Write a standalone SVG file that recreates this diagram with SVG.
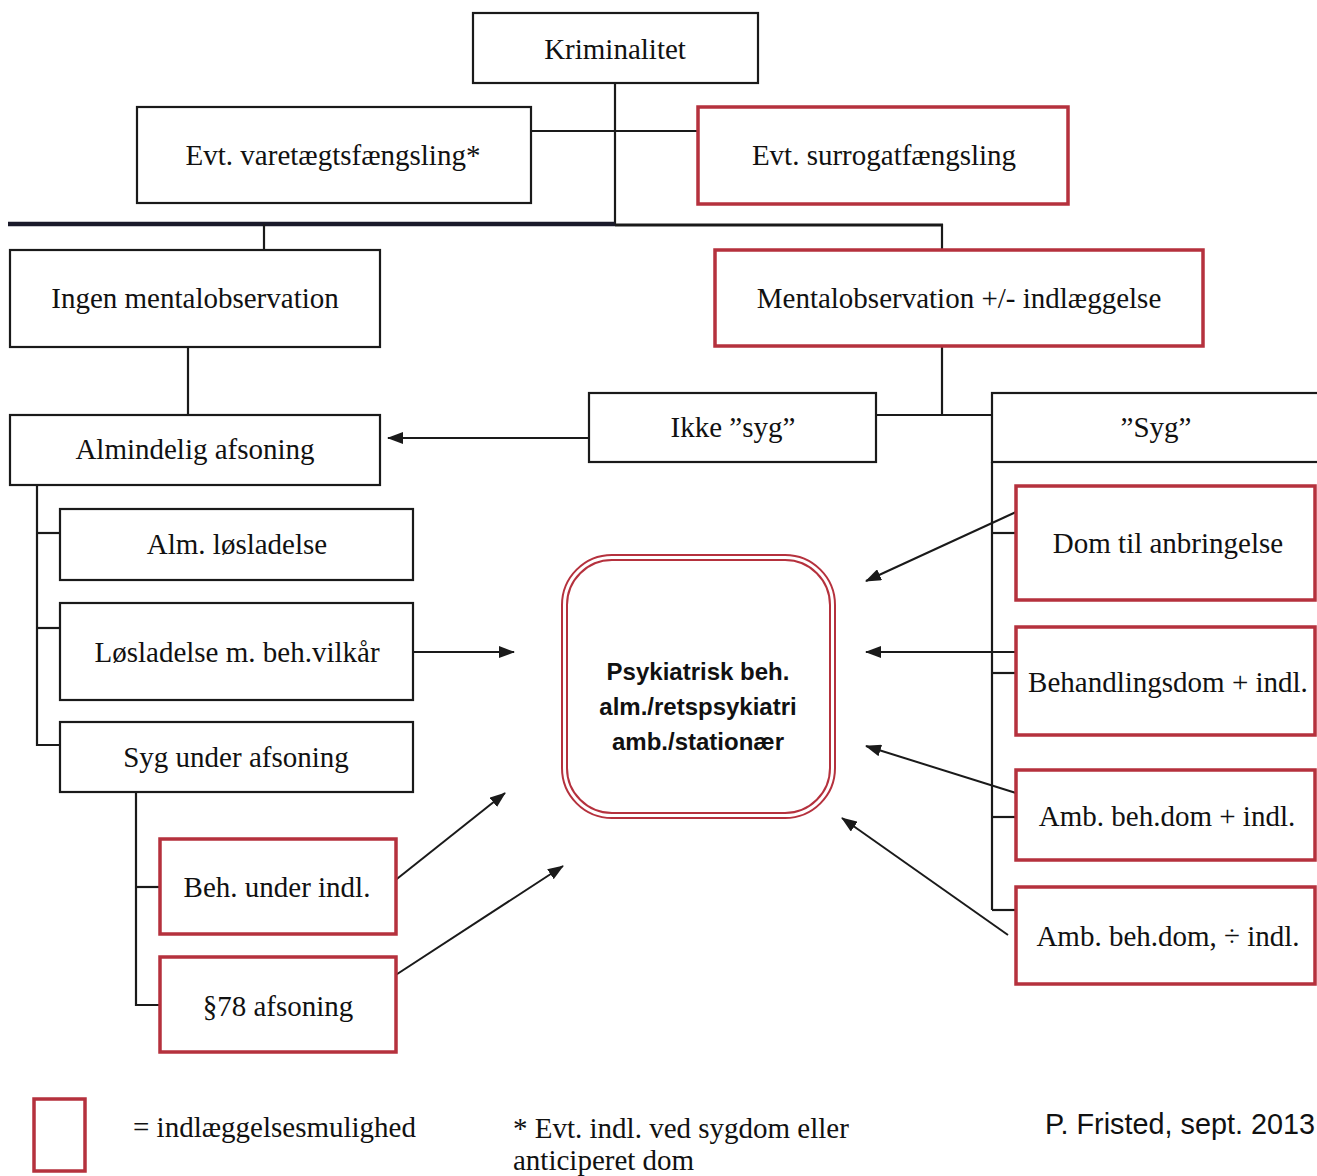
<svg xmlns="http://www.w3.org/2000/svg" width="1317" height="1176" viewBox="0 0 1317 1176">
<defs>
<style>
.bk{fill:#fff;stroke:#1a1a1a;stroke-width:2.2}
.rd{fill:#fff;stroke:#b5313d;stroke-width:3.5}
.t{font-family:"Liberation Serif","Times New Roman",serif;font-size:29px;fill:#111;text-anchor:middle}
.ln{stroke:#1a1a1a;stroke-width:2.2;fill:none}
.ar{stroke:#1a1a1a;stroke-width:2;fill:none;marker-end:url(#ah)}
.ft{font-family:"Liberation Serif","Times New Roman",serif;font-size:29px;fill:#111}
</style>
<marker id="ah" markerWidth="16" markerHeight="12" refX="15" refY="6" orient="auto" markerUnits="userSpaceOnUse">
<path d="M0,0 L16,6 L0,12 z" fill="#1a1a1a"/>
</marker>
</defs>
<rect width="1317" height="1176" fill="#fff"/>

<g id="connectors">
<line class="ln" x1="615" y1="83" x2="615" y2="224"/>
<line class="ln" x1="531" y1="131" x2="698" y2="131"/>
<line x1="8" y1="224" x2="615" y2="224" stroke="#1a1a2a" stroke-width="4.5"/>
<line x1="615" y1="225" x2="943" y2="225" stroke="#1a1a1a" stroke-width="3"/>
<line class="ln" x1="264" y1="224" x2="264" y2="250"/>
<line class="ln" x1="942" y1="224" x2="942" y2="250"/>
<line class="ln" x1="188" y1="347" x2="188" y2="415"/>
<line class="ln" x1="942" y1="346" x2="942" y2="415"/>
<line class="ln" x1="868" y1="415" x2="993" y2="415"/>
<line class="ln" x1="992" y1="462" x2="992" y2="910"/>
<line class="ln" x1="992" y1="533" x2="1016" y2="533"/>
<line class="ln" x1="992" y1="673" x2="1016" y2="673"/>
<line class="ln" x1="992" y1="817" x2="1016" y2="817"/>
<line class="ln" x1="992" y1="910" x2="1016" y2="910"/>
<polyline class="ln" points="37,485 37,745 60,745"/>
<line class="ln" x1="37" y1="533" x2="60" y2="533"/>
<line class="ln" x1="37" y1="628" x2="60" y2="628"/>
<polyline class="ln" points="136,792 136,1005 160,1005"/>
<line class="ln" x1="136" y1="887" x2="160" y2="887"/>
<line class="ar" x1="589" y1="438" x2="388" y2="438"/>
<line class="ar" x1="413" y1="652" x2="514" y2="652"/>
<line class="ar" x1="388" y1="886" x2="505" y2="793"/>
<line class="ar" x1="388" y1="980" x2="563" y2="866"/>
<line class="ar" x1="1016" y1="512" x2="866" y2="581"/>
<line class="ar" x1="1016" y1="652" x2="866" y2="652"/>
<line class="ar" x1="1016" y1="793" x2="866" y2="746"/>
<line class="ar" x1="1008" y1="935" x2="842" y2="818"/>
</g>

<g id="kriminalitet"><rect class="bk" x="473" y="13" width="285" height="70"/><text class="t" x="615" y="59">Kriminalitet</text></g>
<g id="varetaegt"><rect class="bk" x="137" y="107" width="394" height="96"/><text class="t" x="333" y="165">Evt. varetægtsfængsling*</text></g>
<g id="surrogat"><rect class="rd" x="698" y="107" width="370" height="97"/><text class="t" x="884" y="165">Evt. surrogatfængsling</text></g>
<g id="ingen"><rect class="bk" x="10" y="250" width="370" height="97"/><text class="t" x="195" y="308">Ingen mentalobservation</text></g>
<g id="mentalobs"><rect class="rd" x="715" y="250" width="488" height="96"/><text class="t" x="959" y="308">Mentalobservation +/- indlæggelse</text></g>
<g id="ikkesyg"><rect class="bk" x="589" y="393" width="287" height="69"/><text class="t" x="733" y="437">Ikke ”syg”</text></g>
<g id="syg"><rect class="bk" x="992" y="393" width="340" height="69"/><text class="t" x="1156" y="437">”Syg”</text></g>
<g id="almafs"><rect class="bk" x="10" y="415" width="370" height="70"/><text class="t" x="195" y="459">Almindelig afsoning</text></g>
<g id="almlos"><rect class="bk" x="60" y="509" width="353" height="71"/><text class="t" x="237" y="554">Alm. løsladelse</text></g>
<g id="losbeh"><rect class="bk" x="60" y="603" width="353" height="97"/><text class="t" x="237" y="662">Løsladelse m. beh.vilkår</text></g>
<g id="sygunder"><rect class="bk" x="60" y="722" width="353" height="70"/><text class="t" x="236" y="767">Syg under afsoning</text></g>
<g id="behunder"><rect class="rd" x="160" y="839" width="236" height="95"/><text class="t" x="277" y="897">Beh. under indl.</text></g>
<g id="p78"><rect class="rd" x="160" y="957" width="236" height="95"/><text class="t" x="278" y="1016">§78 afsoning</text></g>
<g id="dom"><rect class="rd" x="1016" y="486" width="299" height="114"/><text class="t" x="1168" y="553">Dom til anbringelse</text></g>
<g id="behdom"><rect class="rd" x="1016" y="627" width="299" height="108"/><text class="t" x="1168" y="692">Behandlingsdom + indl.</text></g>
<g id="ambindl"><rect class="rd" x="1016" y="770" width="299" height="90"/><text class="t" x="1167" y="826">Amb. beh.dom + indl.</text></g>
<g id="ambuden"><rect class="rd" x="1016" y="887" width="299" height="97"/><text class="t" x="1168" y="946">Amb. beh.dom, ÷ indl.</text></g>
<g id="psyk">
<rect x="562" y="555" width="273" height="263" rx="50" fill="#fff" stroke="#b5313d" stroke-width="2"/>
<rect x="567" y="560" width="263" height="253" rx="45" fill="none" stroke="#b5313d" stroke-width="2"/>
<g font-family="'Liberation Sans',Arial,sans-serif" font-weight="bold" font-size="24" fill="#111" text-anchor="middle">
<text x="698" y="680">Psykiatrisk beh.</text>
<text x="698" y="715">alm./retspsykiatri</text>
<text x="698" y="750">amb./stationær</text>
</g>
</g>
<g id="legend">
<rect x="34" y="1099" width="51" height="72" fill="none" stroke="#b5313d" stroke-width="3.5"/>
<text class="ft" x="133" y="1137">= indlæggelsesmulighed</text>
<text class="ft" x="513" y="1138">*  Evt. indl. ved sygdom eller</text>
<text class="ft" x="513" y="1170">anticiperet dom</text>
<text x="1045" y="1134" font-family="'Liberation Sans',Arial,sans-serif" font-size="28.8" fill="#111">P. Fristed, sept. 2013</text>
</g>
</svg>
